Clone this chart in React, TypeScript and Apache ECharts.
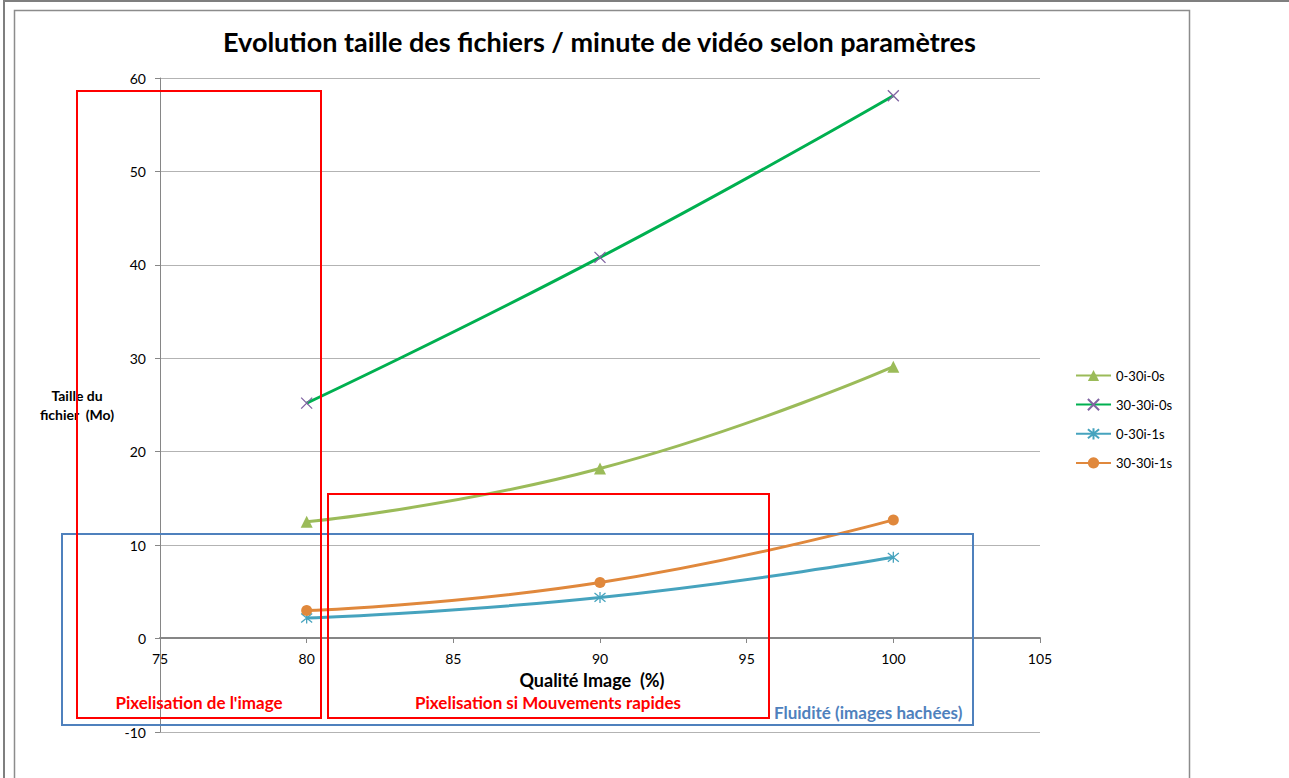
import React, { useEffect, useRef } from "react";
import * as echarts from "echarts";

const xValues = [80, 90, 100];
const serie0300 = [12.5, 18.2, 29.1];
const serie30300 = [25.2, 40.8, 58.1];
const serie0301 = [2.2, 4.4, 8.7];
const serie30301 = [3.0, 6.0, 12.7];
const seriesNames = ["0-30i-0s", "30-30i-0s", "0-30i-1s", "30-30i-1s"];
const titleText = "Evolution taille des fichiers / minute de vidéo selon paramètres";
const xAxisTitle = "Qualité Image  (%)";
const yAxisTitle = "Taille du\nfichier  (Mo)";
const annotations = ["Pixelisation de l'image", "Pixelisation si Mouvements rapides", "Fluidité (images hachées)"];

const FONT = "Lato, 'Open Sans', sans-serif";

const pairs = (ys: number[]) => xValues.map((x, i) => [x, ys[i]]);

export default function App() {
  const ref = useRef<HTMLDivElement>(null);
  useEffect(() => {
    if (!ref.current) return;
    const chart = echarts.init(ref.current, null, { renderer: "svg" });
    const crossPath = "path://M0,0L10,10M10,0L0,10";
    const starPath = "path://M5,0L5,10M1,1L9,9M9,1L1,9";
    const option: any = {
      animation: false,
      backgroundColor: "#ffffff",
      textStyle: { fontFamily: FONT },
      title: {
        text: titleText,
        left: 223,
        top: 28,
        padding: 0,
        textStyle: { fontFamily: FONT, fontSize: 27, fontWeight: "bold", color: "#000" },
      },
      legend: {
        orient: "vertical",
        left: 1075,
        top: 369,
        padding: 0,
        itemWidth: 35,
        itemHeight: 14,
        itemGap: 16,
        data: seriesNames,
        textStyle: { fontFamily: FONT, fontSize: 13, color: "#000" },
      },
      grid: { left: 160, right: 249, top: 78, bottom: 46, containLabel: false, outerBoundsMode: "none" },
      xAxis: {
        type: "value",
        min: 75,
        max: 105,
        interval: 5,
        offset: -94,
        name: xAxisTitle,
        nameLocation: "middle",
        nameGap: 33,
        nameTextStyle: { fontFamily: FONT, fontSize: 18, fontWeight: "bold", color: "#000", padding: [0, 16, 0, 0] },
        axisLine: { onZero: false, lineStyle: { color: "#868686", width: 2 } },
        axisTick: { show: true, length: 5, lineStyle: { color: "#868686" } },
        axisLabel: { margin: 13, fontSize: 14, color: "#000", fontFamily: FONT },
        splitLine: { show: false },
      },
      yAxis: {
        type: "value",
        min: -10,
        max: 60,
        interval: 10,
        name: yAxisTitle,
        nameLocation: "middle",
        nameRotate: 0,
        nameGap: 83,
        nameTextStyle: { fontFamily: FONT, fontSize: 14, fontWeight: "bold", color: "#000", align: "center", lineHeight: 19 },
        axisLine: { show: true, lineStyle: { color: "#868686", width: 1 } },
        axisTick: { show: true, length: 5, lineStyle: { color: "#868686" } },
        axisLabel: { margin: 14, fontSize: 14, color: "#000", fontFamily: FONT },
        splitLine: { show: true, lineStyle: { color: "#b3b3b3", width: 1 } },
      },
      series: [
        {
          name: seriesNames[0],
          type: "line",
          data: pairs(serie0300),
          smooth: true,
          symbol: "triangle",
          symbolSize: 12,
          lineStyle: { color: "#9BBB59", width: 3 },
          itemStyle: { color: "#9BBB59" },
        },
        {
          name: seriesNames[1],
          type: "line",
          data: pairs(serie30300),
          smooth: true,
          symbol: crossPath,
          symbolSize: 11,
          lineStyle: { color: "#00B050", width: 3 },
          itemStyle: { color: "#8064A2", borderColor: "#8064A2", borderWidth: 1.3 },
        },
        {
          name: seriesNames[2],
          type: "line",
          data: pairs(serie0301),
          smooth: true,
          symbol: starPath,
          symbolSize: 11,
          lineStyle: { color: "#46A3BE", width: 3 },
          itemStyle: { color: "#46A3BE", borderColor: "#46A3BE", borderWidth: 1.3 },
        },
        {
          name: seriesNames[3],
          type: "line",
          data: pairs(serie30301),
          smooth: true,
          symbol: "circle",
          symbolSize: 11,
          lineStyle: { color: "#E0883C", width: 3 },
          itemStyle: { color: "#E0883C" },
        },
      ],
      graphic: [
        { type: "rect", z: 100, shape: { x: 4, y: 1, width: 1400, height: 1000 }, style: { fill: "none", stroke: "#7f7f7f", lineWidth: 2 }, silent: true },
        { type: "rect", z: 100, shape: { x: 14.5, y: 10.5, width: 1175, height: 1000 }, style: { fill: "none", stroke: "#8c8c8c", lineWidth: 1.5 }, silent: true },
        { type: "rect", z: 100, shape: { x: 62, y: 534, width: 911, height: 191 }, style: { fill: "none", stroke: "#4F81BD", lineWidth: 2 }, silent: true },
        { type: "rect", z: 101, shape: { x: 77, y: 91, width: 244, height: 627 }, style: { fill: "none", stroke: "#FF0000", lineWidth: 2 }, silent: true },
        { type: "rect", z: 101, shape: { x: 328, y: 494, width: 441, height: 224 }, style: { fill: "none", stroke: "#FF0000", lineWidth: 2 }, silent: true },
        { type: "text", z: 102, x: 199, y: 702, style: { text: annotations[0], fill: "#FF0000", font: `bold 17px ${FONT}`, align: "center", verticalAlign: "middle" } },
        { type: "text", z: 102, x: 548, y: 702, style: { text: annotations[1], fill: "#FF0000", font: `bold 17px ${FONT}`, align: "center", verticalAlign: "middle" } },
        { type: "text", z: 102, x: 774, y: 712, style: { text: annotations[2], fill: "#4F81BD", font: `bold 17px ${FONT}`, align: "left", verticalAlign: "middle" } },
      ],
    };
    chart.setOption(option);
    return () => chart.dispose();
  }, []);
  return (
    <div
      ref={ref}
      style={{ position: "fixed", left: 0, top: 0, width: 1289, height: 778, background: "#fff" }}
    />
  );
}
